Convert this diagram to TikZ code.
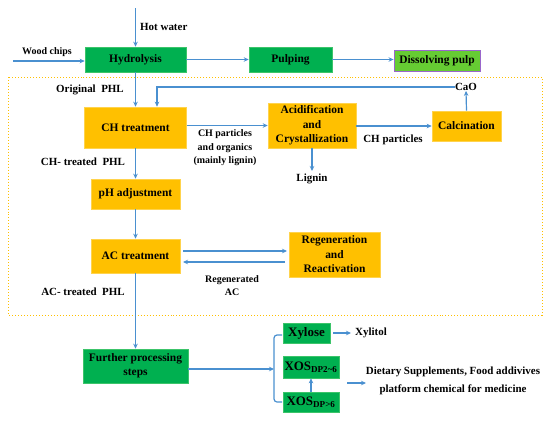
\documentclass[tikz,border=0pt]{standalone}
\usepackage{fontspec}
\setmainfont{Liberation Serif}
\usetikzlibrary{arrows.meta}
\definecolor{gbox}{HTML}{00B050}
\definecolor{gedge}{HTML}{3CC46A}
\definecolor{obox}{HTML}{FFC000}
\definecolor{oedge}{HTML}{FFD34D}
\definecolor{lgreen}{HTML}{66CC33}
\definecolor{purp}{HTML}{9966CC}
\definecolor{arr}{HTML}{4A90D0}
\tikzset{
  base/.style={font=\bfseries\fontsize{11.5}{14.5}\selectfont, align=center, inner sep=0pt},
  greenbox/.style={base, fill=gbox, draw=gedge, line width=0.6pt},
  orangebox/.style={base, fill=obox, draw=oedge, line width=0.6pt},
  lbl/.style={font=\bfseries\fontsize{11}{13.5}\selectfont, align=center, inner sep=0pt},
  small/.style={font=\bfseries\fontsize{10}{13.5}\selectfont, align=center, inner sep=0pt},
  flow/.style={draw=arr, line width=1.2pt, -{Stealth[length=5pt,width=4.5pt]}},
  plain/.style={draw=arr, line width=1.2pt},
}
\begin{document}
\begin{tikzpicture}[x=1bp,y={(0bp,-1bp)}]
\useasboundingbox (0,0) rectangle (550,420);
% dotted frame
\draw[obox, line width=1pt, dotted] (8,77) rectangle (542,315);
% boxes
\node[greenbox, minimum width=101bp, minimum height=25bp] (hyd) at (135.5,59.5) {Hydrolysis};
\node[greenbox, minimum width=83bp, minimum height=25bp] (pulp) at (290.5,59.5) {Pulping};
\node[base, fill=lgreen, draw=purp, line width=0.9pt, minimum width=86bp, minimum height=21bp] (diss) at (437,60.5) {Dissolving pulp};
\node[orangebox, minimum width=102bp, minimum height=41bp] (ch) at (135.5,127.5) {CH treatment};
\node[orangebox, minimum width=88bp, minimum height=45bp] (acid) at (312,125.5) {Acidification\\and\\Crystallization};
\node[orangebox, minimum width=69bp, minimum height=30bp] (calc) at (466.5,126) {Calcination};
\node[orangebox, minimum width=89bp, minimum height=30bp] (ph) at (135.5,194) {pH adjustment};
\node[orangebox, minimum width=89bp, minimum height=34bp] (ac) at (135.5,256) {AC treatment};
\node[orangebox, minimum width=91bp, minimum height=45bp] (regen) at (334.5,254.5) {Regeneration\\and\\Reactivation};
\node[greenbox, minimum width=105bp, minimum height=34bp] (fur) at (135.5,366) {Further processing\\steps};
\node[greenbox, font=\bfseries\fontsize{13}{15}\selectfont, minimum width=47bp, minimum height=20bp] (xyl) at (306.5,333) {Xylose};
\node[greenbox, font=\bfseries\fontsize{13}{15}\selectfont, minimum width=56bp, minimum height=22bp] (xosa) at (311,367) {XOS\textsubscript{DP2\textasciitilde 6}};
\node[greenbox, font=\bfseries\fontsize{13}{15}\selectfont, minimum width=56bp, minimum height=20bp] (xosb) at (311,402) {XOS\textsubscript{DP>6}};
% labels
\node[lbl, anchor=west] (hotw) at (140,27) {Hot water};
\node[small] (wood) at (47,52) {Wood chips};
\node[lbl] (orig) at (90,90) {Original\ \ PHL};
\node[lbl] (cao) at (466,87) {CaO};
\node[small] (chorg) at (225,148) {CH particles\\and organics\\(mainly lignin)};
\node[lbl] (chp) at (393,140) {CH particles};
\node[lbl] (lig) at (312,179) {Lignin};
\node[lbl] (chphl) at (83,162) {CH- treated\ \ PHL};
\node[small] (rac) at (232,285.5) {Regenerated\\AC};
\node[lbl] (acphl) at (83,292) {AC- treated\ \ PHL};
\node[lbl, anchor=west] (xylt) at (355,333) {Xylitol};
\node[lbl] (diet) at (453,380.5) {Dietary Supplements, Food addivives\\[4.5bp]platform chemical for medicine};
% coordinates
\coordinate (hwtop) at (135.5,8);
\coordinate (wcs) at (13,61);
\coordinate (caol) at (157,87);
\coordinate (ligend) at (312,171);
\coordinate (brt) at (274,335);
\coordinate (brb) at (274,402);
\coordinate (brm) at (274,369);
\coordinate (dstart) at (347,383);
\coordinate (dend) at (366,383);
\coordinate (up1) at (183,251);
\coordinate (up2) at (287,251);
\coordinate (lo1) at (285,262);
\coordinate (lo2) at (183,262);
% connectors
\draw[flow] (hwtop) -- (hyd.north);
\draw[flow] (wcs) -- (wcs -| hyd.west);
\draw[flow] (hyd.east) -- (pulp.west);
\draw[flow] (pulp.east) -- (diss.west |- pulp.east);
\draw[flow] (hyd.south) -- (ch.north);
\draw[flow] (cao.west) -- (caol) -- (caol |- ch.north);
\draw[flow] (ch.east |- acid.west) -- (acid.west);
\draw[flow] (acid.east |- calc.west) -- (calc.west);
\draw[flow] (calc.north) -- (cao.south);
\draw[flow] (acid.south) -- (ligend);
\draw[flow] (ch.south) -- (ph.north);
\draw[flow] (ph.south) -- (ac.north);
\draw[flow] (up1) -- (up2);
\draw[flow] (lo1) -- (lo2);
\draw[flow] (ac.south) -- (fur.north);
\draw[flow] (fur.east |- brm) -- (brm);
\draw[plain, rounded corners=3bp] ([xshift=8bp]brt) -- (brt) -- (brb) -- ([xshift=8bp]brb);
\draw[flow] ([xshift=3bp]xyl.east) -- ([xshift=-4bp]xylt.west);
\draw[flow] (xosb.north) -- (xosa.south);
\draw[flow] (dstart) -- (dend);
\end{tikzpicture}
\end{document}
